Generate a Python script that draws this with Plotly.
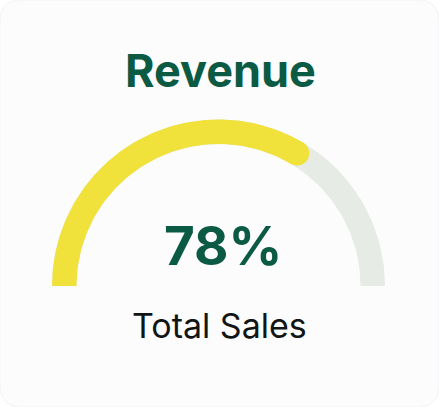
import numpy as np
import plotly.graph_objects as go

# --- chart content ---
title_text = "Revenue"
value_label = "78%"
caption_text = "Total Sales"

# share of the half ring painted yellow (as drawn), and the rest as grey track
arc_parts = [67, 33]
arc_colors = ["#f0e13b", "#e6ebe5"]

# --- geometry (page pixels, y pointing up) ---
W, H = 439, 407
cx, cy = 218.5, H - 286
r_out, r_in = 166.5, 142.0
green = "#0b5a43"


def ring_sector(a0, a1, n=120):
    # angles in degrees, 180 = left end, 0 = right end
    t = np.radians(np.linspace(a0, a1, n))
    xo = cx + r_out * np.cos(t)
    yo = cy + r_out * np.sin(t)
    xi = cx + r_in * np.cos(t[::-1])
    yi = cy + r_in * np.sin(t[::-1])
    return np.concatenate([xo, xi, xo[:1]]), np.concatenate([yo, yi, yo[:1]])


fig = go.Figure()

# card background
rad = 22
card = (f"M {rad},0 L {W-rad},0 Q {W},0 {W},{rad} L {W},{H-rad} Q {W},{H} {W-rad},{H} "
        f"L {rad},{H} Q 0,{H} 0,{H-rad} L 0,{rad} Q 0,0 {rad},0 Z")
fig.add_shape(type="path", path=card, xref="x", yref="y",
              fillcolor="#fcfcfd", line=dict(color="#f3f3f5", width=1), layer="below")

total = sum(arc_parts)
filled_end = 180 - 180 * arc_parts[0] / total

# grey track (full half ring)
gx, gy = ring_sector(180, 0)
fig.add_trace(go.Scatter(x=gx, y=gy, fill="toself", mode="lines",
                         fillcolor=arc_colors[1], line=dict(width=0, color=arc_colors[1]),
                         hoverinfo="skip"))

# yellow progress
yx, yy = ring_sector(180, filled_end)
fig.add_trace(go.Scatter(x=yx, y=yy, fill="toself", mode="lines",
                         fillcolor=arc_colors[0], line=dict(width=0, color=arc_colors[0]),
                         hoverinfo="skip"))

# round cap at the end of the progress arc
r_mid = (r_out + r_in) / 2
t_end = np.radians(filled_end)
fig.add_trace(go.Scatter(x=[cx + r_mid * np.cos(t_end)], y=[cy + r_mid * np.sin(t_end)],
                         mode="markers",
                         marker=dict(size=r_out - r_in, color=arc_colors[0], line=dict(width=0)),
                         hoverinfo="skip"))

font_name = "Inter, Liberation Sans, Arial"
fig.add_annotation(x=220, y=H - 70, text=f"<b>{title_text}</b>", showarrow=False,
                   font=dict(family=font_name, size=45, color=green))
fig.add_annotation(x=223, y=H - 246, text=f"<b>{value_label}</b>", showarrow=False,
                   font=dict(family=font_name, size=53, color=green))
fig.add_annotation(x=219, y=H - 325, text=caption_text, showarrow=False,
                   font=dict(family=font_name, size=34, color="#111614"))

fig.update_layout(
    width=W, height=H,
    margin=dict(l=0, r=0, t=0, b=0),
    paper_bgcolor="white",
    plot_bgcolor="rgba(0,0,0,0)",
    showlegend=False,
    xaxis=dict(range=[0, W], visible=False, fixedrange=True),
    yaxis=dict(range=[0, H], visible=False, fixedrange=True),
)

# the page body has a default 8px margin; drop it so the card fills the window
fig.write_html("out.html", config={"displayModeBar": False},
               post_script="document.body.style.margin = '0';")
